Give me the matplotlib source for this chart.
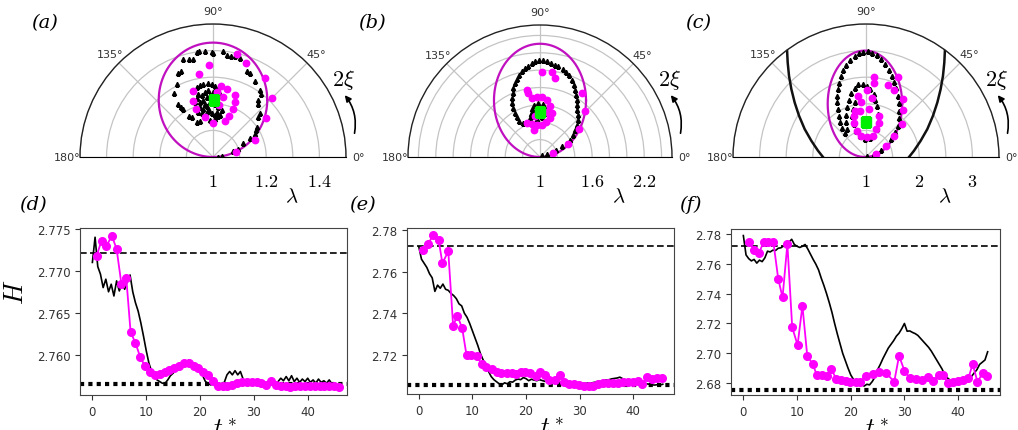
import numpy as np
import matplotlib
matplotlib.use("Agg")
import matplotlib.pyplot as plt

plt.rcParams["mathtext.fontset"] = "cm"
plt.rcParams["font.family"] = ["DejaVu Sans"]

W, H = 1018, 431
MAG = "#ff00ff"
ELL = "#c010c0"
GREEN = "#00ee00"
TXT = "#333333"

# ---------------- polar panels: x = (lam-1)cos(2xi), y = (lam-1)sin(2xi)
a_tri_x = [0.02, 0.032, 0.076, 0.095, 0.114, 0.139, 0.157, 0.161, 0.166, 0.170, 0.176, 0.170, 0.170,
           0.182, 0.176, 0.157, 0.139, 0.126, 0.101, 0.082, 0.066, 0.054, 0.036, 0.001, -0.005, -0.030,
           -0.051, -0.061, -0.074, -0.092, -0.111, -0.121, -0.130, -0.136, -0.146, -0.130, -0.121, -0.111,
           -0.089, -0.080, -0.061, -0.049, -0.030, -0.011, 0.007, 0.020,
           -0.061, -0.049, -0.036, -0.017, -0.005, 0.007, 0.020, 0.026, 0.014, -0.005, -0.024, -0.042,
           -0.055, -0.061, -0.049, -0.030, -0.011, 0.007, 0.020, 0.014, -0.005, -0.024, -0.036, -0.049,
           -0.030, -0.017, 0.001, -0.011, -0.036, -0.024, -0.074, -0.067, 0.032, 0.026, 0.007, -0.014,
           -0.042, -0.055]
a_tri_y = [0.000, 0.004, 0.024, 0.029, 0.051, 0.070, 0.086, 0.101, 0.114, 0.149, 0.164, 0.199, 0.213,
           0.238, 0.251, 0.286, 0.316, 0.323, 0.373, 0.378, 0.378, 0.382, 0.398, 0.391, 0.394, 0.398,
           0.397, 0.393, 0.367, 0.367, 0.367, 0.323, 0.316, 0.276, 0.241, 0.201, 0.189, 0.181,
           0.156, 0.149, 0.132, 0.136, 0.151, 0.139, 0.141, 0.154,
           0.263, 0.270, 0.276, 0.278, 0.273, 0.266, 0.257, 0.238, 0.226, 0.220, 0.226, 0.232,
           0.238, 0.220, 0.207, 0.201, 0.207, 0.201, 0.189, 0.170, 0.164, 0.170, 0.182, 0.189,
           0.245, 0.251, 0.245, 0.232, 0.216, 0.191, 0.248, 0.207, 0.176, 0.157, 0.157, 0.176,
           0.164, 0.170]
a_dot_x = [0.092, 0.124, -0.014, -0.051, 0.195, 0.223, 0.201, 0.157, 0.086, -0.076, -0.076, -0.064,
           -0.030, 0.001, 0.045, 0.061, 0.076, 0.082, 0.082, 0.051, 0.029, 0.014, 0.036, 0.024]
a_dot_y = [0.386, 0.353, 0.345, 0.313, 0.297, 0.222, 0.145, 0.064, 0.019, 0.248, 0.211, 0.179,
           0.149, 0.129, 0.136, 0.154, 0.182, 0.207, 0.232, 0.257, 0.266, 0.245, 0.226, 0.195]
a_fix = (0.005, 0.216)
a_ell = (0.0, 0.215, 0.204, 0.215)  # centre x, centre y, semi-axis x, semi-axis y

b_tri_x = [0.019, 0.077, 0.134, 0.184, 0.249, 0.307, 0.345, 0.375, 0.402, 0.429, 0.441, 0.437, 0.429,
           0.421, 0.421, 0.414, 0.402, 0.391, 0.364, 0.337, 0.299, 0.261, 0.211, 0.172, 0.126, 0.084,
           0.038, -0.008, -0.054, -0.096, -0.134, -0.172, -0.211, -0.241, -0.268, -0.291, -0.307,
           -0.314, -0.322, -0.322, -0.310, -0.291, -0.268, -0.238, -0.192, -0.146, -0.115, -0.107,
           -0.096, -0.069, -0.019, 0.031, 0.057, 0.054, 0.019, -0.038, -0.084, -0.077, -0.046]
b_tri_y = [0.021, 0.036, 0.059, 0.086, 0.125, 0.163, 0.201, 0.259, 0.316, 0.374, 0.431, 0.489, 0.546,
           0.603, 0.661, 0.718, 0.776, 0.833, 0.891, 0.941, 0.979, 1.017, 1.044, 1.063, 1.082, 1.102,
           1.113, 1.117, 1.102, 1.078, 1.052, 1.025, 0.987, 0.948, 0.902, 0.852, 0.795,
           0.738, 0.680, 0.623, 0.565, 0.508, 0.458, 0.420, 0.393, 0.404, 0.450, 0.496,
           0.557, 0.596, 0.623, 0.611, 0.565, 0.508, 0.458, 0.443, 0.469, 0.527, 0.557]
b_dot_x = [0.019, 0.142, 0.172, -0.153, -0.134, 0.479, 0.517, 0.452, 0.326, 0.153, -0.096, -0.038,
           0.019, 0.084, 0.115, 0.134, 0.115, 0.069, 0.019, -0.038, -0.096, -0.146, -0.069, -0.057, 0.077]
b_dot_y = [0.975, 0.975, 0.910, 0.776, 0.738, 0.738, 0.527, 0.324, 0.155, 0.048, 0.680, 0.695,
           0.688, 0.661, 0.584, 0.508, 0.450, 0.404, 0.374, 0.366, 0.381, 0.393, 0.316, 0.469, 0.519]
b_fix = (0.0, 0.517)
b_ell = (0.0, 0.652, 0.53, 0.652)

c_tri_x = [0.016, 0.159, 0.284, 0.378, 0.472, 0.553, 0.597, 0.616, 0.628, 0.616, 0.597, 0.566, 0.534,
           0.491, 0.428, 0.366, 0.284, 0.203, 0.116, 0.034, -0.047, -0.134, -0.216, -0.297, -0.372,
           -0.434, -0.478, -0.509, -0.528, -0.541, -0.541, -0.534, -0.516, -0.484, -0.447, -0.403,
           -0.359, -0.372, -0.372, -0.353, -0.322, -0.278, -0.216, -0.141, -0.059, 0.016, 0.084, 0.141,
           0.178, 0.203, 0.222, 0.228, 0.203, 0.147, 0.066, -0.028, -0.122, -0.184, -0.234, -0.259,
           -0.247, -0.209]
c_tri_y = [0.013, 0.056, 0.138, 0.225, 0.338, 0.463, 0.588, 0.725, 0.869, 1.013, 1.150, 1.288, 1.413,
           1.525, 1.638, 1.744, 1.838, 1.913, 1.963, 1.988, 1.981, 1.950, 1.900, 1.825, 1.738,
           1.638, 1.525, 1.400, 1.275, 1.150, 1.025, 0.900, 0.775, 0.650, 0.538, 0.450,
           0.525, 0.650, 0.788, 0.931, 1.075, 1.200, 1.306, 1.369, 1.369, 1.338, 1.275, 1.181,
           1.075, 0.950, 0.806, 0.663, 0.525, 0.413, 0.350, 0.338, 0.388, 0.494, 0.619, 0.763,
           0.900, 1.025]
c_dot_x = [0.159, 0.147, 0.409, 0.534, 0.597, 0.703, 0.691, 0.672, 0.534, 0.378, 0.191, -0.147, -0.091,
           0.116, -0.216, -0.122, 0.053, 0.241, 0.253, 0.191, 0.128, 0.016, -0.091, -0.172, -0.234,
           -0.234, 0.016]
c_dot_y = [1.513, 1.388, 1.350, 1.263, 1.513, 1.088, 0.888, 0.619, 0.388, 0.200, 0.050, 1.138, 1.038,
           1.100, 0.869, 0.869, 0.900, 0.763, 0.638, 0.525, 0.400, 0.369, 0.400, 0.494, 0.638,
           0.763, 1.263]
c_fix = (0.003, 0.65)
c_ell = (-0.02, 1.0, 0.70, 1.0)
# boundary curve (left branch; right branch is its mirror image)
c_bnd_x = [-1.484, -1.472, -1.447, -1.403, -1.341, -1.259, -1.153, -1.028, -0.903, -0.809]
c_bnd_y = [2.013, 1.775, 1.525, 1.275, 1.025, 0.775, 0.525, 0.306, 0.119, 0.0]

# ---------------- time series (black traces sampled every 0.5 time units)
d_blk_h = [2.7710, 2.7740, 2.7705, 2.7696, 2.7680, 2.7690, 2.7675, 2.7684, 2.7670, 2.7688, 2.7676,
           2.7685, 2.7678, 2.7688, 2.7695, 2.7675, 2.7662, 2.7652, 2.7638, 2.7622, 2.7605, 2.7590,
           2.7580, 2.7574, 2.7570, 2.7568, 2.7566, 2.7566, 2.7570, 2.7575, 2.7578, 2.7582, 2.7584,
           2.7587, 2.7586, 2.7591, 2.7594, 2.7587, 2.7589, 2.7584, 2.7580, 2.7575, 2.7568, 2.7566,
           2.7564, 2.7566, 2.7564, 2.7566, 2.7565, 2.7567, 2.7576, 2.7580, 2.7576, 2.7581, 2.7576,
           2.7580, 2.7571, 2.7568, 2.7570, 2.7567, 2.7568, 2.7566, 2.7567, 2.7565, 2.7566, 2.7564,
           2.7566, 2.7567, 2.7566, 2.7568, 2.7572, 2.7569, 2.7574, 2.7569, 2.7575, 2.7568, 2.7572,
           2.7567, 2.7571, 2.7568, 2.7572, 2.7567, 2.7570, 2.7566, 2.7571, 2.7567, 2.7569, 2.7566,
           2.7570, 2.7565, 2.7566]
d_mag_t = [0.8, 1.7, 2.6, 3.6, 4.5, 5.4, 6.3, 7.1, 8.0, 8.9, 9.8, 10.7, 11.6, 12.5, 13.4, 14.3, 15.2,
           16.1, 17.0, 17.9, 18.8, 19.7, 20.6, 21.5, 22.4, 23.3, 24.2, 25.1, 26.0, 26.9, 27.8, 28.7,
           29.6, 30.5, 31.4, 32.3, 33.2, 34.1, 35.0, 35.9, 36.8, 37.7, 38.6, 39.5, 40.4, 41.3, 42.2,
           43.1, 44.0, 44.9, 45.8]
d_mag_h = [2.7718, 2.7736, 2.7729, 2.7742, 2.7726, 2.7684, 2.7691, 2.7627, 2.7614, 2.7597, 2.7586,
           2.7579, 2.7576, 2.7577, 2.7580, 2.7582, 2.7584, 2.7587, 2.7590, 2.7590, 2.7587, 2.7584,
           2.7580, 2.7576, 2.7569, 2.7563, 2.7563, 2.7563, 2.7564, 2.7566, 2.7567, 2.7567, 2.7568,
           2.7567, 2.7566, 2.7564, 2.7569, 2.7564, 2.7563, 2.7563, 2.7562, 2.7563, 2.7563, 2.7563,
           2.7563, 2.7563, 2.7563, 2.7563, 2.7563, 2.7563, 2.7562]

e_blk_h = [2.7720, 2.7660, 2.7640, 2.7620, 2.7590, 2.7570, 2.7505, 2.7535, 2.7520, 2.7540, 2.7515,
           2.7510, 2.7495, 2.7485, 2.7470, 2.7445, 2.7435, 2.7400, 2.7380, 2.7350, 2.7315, 2.7280,
           2.7245, 2.7205, 2.7175, 2.7150, 2.7120, 2.7095, 2.7080, 2.7070, 2.7060, 2.7055, 2.7065,
           2.7060, 2.7070, 2.7068, 2.7078, 2.7083, 2.7080, 2.7090, 2.7085, 2.7075, 2.7082, 2.7078,
           2.7075, 2.7080, 2.7076, 2.7072, 2.7076, 2.7070, 2.7068, 2.7072, 2.7065, 2.7068, 2.7062,
           2.7064, 2.7060, 2.7062, 2.7058, 2.7061, 2.7058, 2.7062, 2.7060, 2.7064, 2.7062, 2.7066,
           2.7068, 2.7072, 2.7070, 2.7076, 2.7078, 2.7080, 2.7084, 2.7086, 2.7088, 2.7092, 2.7085,
           2.7080, 2.7078, 2.7074, 2.7076, 2.7072, 2.7070, 2.7066, 2.7064, 2.7060, 2.7058, 2.7055,
           2.7054, 2.7056, 2.7054, 2.7058]
e_mag_t = [0.8, 1.7, 2.7, 3.7, 4.4, 5.5, 6.4, 7.2, 8.1, 8.9, 9.8, 10.8, 11.7, 12.6, 13.6, 14.5, 15.4,
           16.4, 17.3, 18.2, 19.0, 19.9, 20.8, 21.8, 22.6, 23.5, 24.3, 25.4, 26.3, 27.1, 28.0, 29.0,
           29.9, 30.8, 31.8, 32.5, 33.5, 34.4, 35.3, 36.3, 37.2, 38.1, 39.1, 39.9, 40.8, 41.7, 42.6,
           43.5, 44.5, 45.4]
e_mag_h = [2.7705, 2.7733, 2.7776, 2.7752, 2.7641, 2.7697, 2.7340, 2.7388, 2.7327, 2.7198, 2.7198,
           2.7195, 2.7155, 2.7139, 2.7131, 2.7115, 2.7112, 2.7112, 2.7112, 2.7107, 2.7118, 2.7115,
           2.7112, 2.7096, 2.7118, 2.7102, 2.7080, 2.7078, 2.7104, 2.7070, 2.7059, 2.7059, 2.7056,
           2.7051, 2.7048, 2.7051, 2.7059, 2.7064, 2.7064, 2.7064, 2.7064, 2.7067, 2.7067, 2.7070,
           2.7072, 2.7059, 2.7091, 2.7083, 2.7086, 2.7086]

f_blk_h = [2.7790, 2.7660, 2.7635, 2.7620, 2.7630, 2.7605, 2.7625, 2.7615, 2.7640, 2.7685, 2.7680,
           2.7692, 2.7690, 2.7705, 2.7708, 2.7720, 2.7730, 2.7745, 2.7765, 2.7730, 2.7718, 2.7710,
           2.7718, 2.7730, 2.7700, 2.7665, 2.7630, 2.7598, 2.7560, 2.7505, 2.7455, 2.7400, 2.7340,
           2.7275, 2.7200, 2.7130, 2.7065, 2.7000, 2.6950, 2.6900, 2.6855, 2.6825, 2.6808, 2.6800,
           2.6790, 2.6780, 2.6792, 2.6788, 2.6810, 2.6840, 2.6890, 2.6925, 2.6965, 2.7000, 2.7035,
           2.7060, 2.7085, 2.7115, 2.7135, 2.7165, 2.7200, 2.7148, 2.7150, 2.7140, 2.7132, 2.7120,
           2.7100, 2.7080, 2.7060, 2.7040, 2.7015, 2.6985, 2.6955, 2.6925, 2.6895, 2.6855, 2.6835,
           2.6820, 2.6812, 2.6805, 2.6800, 2.6806, 2.6802, 2.6812, 2.6822, 2.6845, 2.6868, 2.6890,
           2.6925, 2.6940, 2.6955, 2.7010]
f_mag_t = [1.1, 2.0, 2.9, 3.8, 4.6, 5.6, 6.5, 7.3, 8.2, 9.1, 10.1, 11.0, 11.9, 12.9, 13.7, 14.6, 15.5,
           16.4, 17.3, 18.2, 19.1, 19.9, 20.9, 21.8, 22.8, 24.1, 25.3, 26.6, 28.1, 29.0, 30.0, 31.0,
           32.1, 33.2, 34.4, 35.3, 36.5, 37.2, 38.1, 39.1, 40.0, 40.9, 41.9, 42.7, 43.6, 44.6, 45.4]
f_mag_h = [2.7744, 2.7693, 2.7672, 2.7749, 2.7744, 2.7744, 2.7498, 2.7375, 2.7733, 2.7174, 2.7055,
           2.7319, 2.6983, 2.6928, 2.6854, 2.6854, 2.6849, 2.6894, 2.6827, 2.6822, 2.6816, 2.6809,
           2.6805, 2.6809, 2.6849, 2.6860, 2.6872, 2.6867, 2.6809, 2.6983, 2.6883, 2.6831, 2.6827,
           2.6822, 2.6838, 2.6816, 2.6854, 2.6854, 2.6800, 2.6809, 2.6816, 2.6820, 2.6831, 2.6927,
           2.6809, 2.6867, 2.6845]


def px(x, y):
    return x / W, 1 - y / H


def to_polar(x, y):
    x = np.asarray(x, dtype=float)
    y = np.asarray(y, dtype=float)
    return np.arctan2(y, x), 1.0 + np.hypot(x, y)


def polar_panel(cx, cy, rad, rmax, rstep, rlabels, tri, dots, fix, ell, tag):
    # square box: the upper half-disc is centred vertically inside it
    ax = fig.add_axes([(cx - rad) / W, 1 - (cy + 0.5 * rad) / H, 2 * rad / W, 2 * rad / H],
                      projection="polar")
    ax.set_thetamin(0)
    ax.set_thetamax(180)
    ax.set_rlim(1, rmax)
    ax.set_rticks(np.arange(1 + rstep, rmax + 1e-9, rstep))
    ax.set_yticklabels([])
    ax.set_thetagrids([0, 45, 90, 135, 180], fontsize=8, color=TXT)
    ax.grid(color="#c4c4c4", lw=0.9)
    ax.spines["polar"].set_color("#222222")
    ax.spines["polar"].set_linewidth(1.0)
    ax.spines["start"].set_visible(False)
    ax.spines["end"].set_visible(False)
    ax.tick_params(axis="x", pad=-1.5)

    s = np.linspace(0, 2 * np.pi, 400)
    th, r = to_polar(ell[0] + ell[2] * np.cos(s), ell[1] + ell[3] * np.sin(s))
    ax.plot(th, r, color=ELL, lw=1.6, zorder=2)
    th, r = to_polar(*tri)
    ax.plot(th, r, "^", color="k", ms=3.0, ls="none", zorder=3)
    th, r = to_polar(*dots)
    ax.plot(th, r, "o", color=MAG, ms=4.6, ls="none", zorder=4)
    th, r = to_polar([fix[0]], [fix[1]])
    ax.plot(th, r, "s", color=GREEN, ms=6.5, ls="none", zorder=5)

    for v, s_ in rlabels:
        ax.annotate(s_, xy=(0, v), xytext=(0, -24), textcoords="offset pixels",
                    ha="center", va="center", fontsize=13, annotation_clip=False)

    fig.text(*px(cx + 79, cy + 38), r"$\lambda$", fontsize=15, ha="center", va="center")
    fig.text(*px(cx + rad - 3, cy - 78), r"$2\xi$", fontsize=16, ha="center", va="center")
    ax.annotate("", xy=px(cx + rad - 3, cy - 64), xytext=px(cx + rad + 8, cy - 21),
                xycoords="figure fraction", textcoords="figure fraction",
                arrowprops=dict(arrowstyle="-|>", color="k", lw=1.2, mutation_scale=9,
                                connectionstyle="arc3,rad=0.25"))
    fig.text(*px(cx - 168, 23), tag, fontsize=14, style="italic", family="DejaVu Serif",
             ha="center", va="center")
    return ax


def line_panel(rect, blk_h, mag_t, mag_h, h_top, h_bot, xlim, ylim, yticks, fmt, tag, tagpos,
               ylabel=False):
    ax = fig.add_axes(rect)
    blk_t = np.arange(len(blk_h)) * 0.5
    ax.axhline(h_top, color="k", lw=1.2, ls=(0, (4, 2)), zorder=1)
    ax.axhline(h_bot, color="k", lw=3.0, ls=(0, (1, 1)), zorder=1)
    ax.plot(blk_t, blk_h, color="k", lw=1.2, zorder=2)
    ax.plot(mag_t, mag_h, "-o", color=MAG, lw=1.3, ms=5.5, zorder=3)
    ax.set_xlim(*xlim)
    ax.set_ylim(*ylim)
    ax.set_xticks([0, 10, 20, 30, 40])
    ax.set_yticks(yticks)
    ax.set_yticklabels([fmt.format(v) for v in yticks])
    ax.tick_params(labelsize=8.5, colors=TXT, length=3.5)
    for sp in ax.spines.values():
        sp.set_color("#444444")
    ax.set_xlabel(r"$t^*$", fontsize=18, va="top")
    ax.xaxis.set_label_coords(0.545, -0.125)
    if ylabel:
        ax.set_ylabel(r"$H$", fontsize=19)
        ax.yaxis.set_label_coords(-0.19, 0.62)
    fig.text(*px(*tagpos), tag, fontsize=14, style="italic", family="DejaVu Serif",
             ha="center", va="center")
    return ax


fig = plt.figure(figsize=(W / 100, H / 100), dpi=100)
fig.patch.set_facecolor("white")

polar_panel(213, 158, 133, 1.5, 0.1, [(1.0, "$1$"), (1.2, "$1.2$"), (1.4, "$1.4$")],
            (a_tri_x, a_tri_y), (a_dot_x, a_dot_y), a_fix, a_ell, "(a)")
polar_panel(540, 158, 132, 2.52, 0.2, [(1.0, "$1$"), (1.6, "$1.6$"), (2.2, "$2.2$")],
            (b_tri_x, b_tri_y), (b_dot_x, b_dot_y), b_fix, b_ell, "(b)")
axc = polar_panel(866, 158, 133, 3.5, 0.5, [(1.0, "$1$"), (2.0, "$2$"), (3.0, "$3$")],
                  (c_tri_x, c_tri_y), (c_dot_x, c_dot_y), c_fix, c_ell, "(c)")
th, r = to_polar(c_bnd_x, c_bnd_y)
axc.plot(th, r, color="#111111", lw=1.8, zorder=2)
th, r = to_polar(-np.asarray(c_bnd_x), c_bnd_y)
axc.plot(th, r, color="#111111", lw=1.8, zorder=2)

line_panel([80 / W, 35 / H, 267 / W, 167 / H], d_blk_h, d_mag_t, d_mag_h, 2.7721, 2.7565,
           (-2.3, 47.3), (2.7552, 2.7751), [2.760, 2.765, 2.770, 2.775], "{:.3f}", "(d)", (33, 205),
           ylabel=True)
line_panel([407 / W, 36 / H, 267 / W, 166 / H], e_blk_h, e_mag_t, e_mag_h, 2.7724, 2.7056,
           (-2.2, 47.6), (2.7011, 2.781), [2.72, 2.74, 2.76, 2.78], "{:.2f}", "(e)", (362, 205))
line_panel([731 / W, 35 / H, 269 / W, 166 / H], f_blk_h, f_mag_t, f_mag_h, 2.7717, 2.6755,
           (-2.3, 47.8), (2.672, 2.7834), [2.68, 2.70, 2.72, 2.74, 2.76, 2.78], "{:.2f}", "(f)",
           (690, 205))

fig.savefig("out.png", dpi=100)
